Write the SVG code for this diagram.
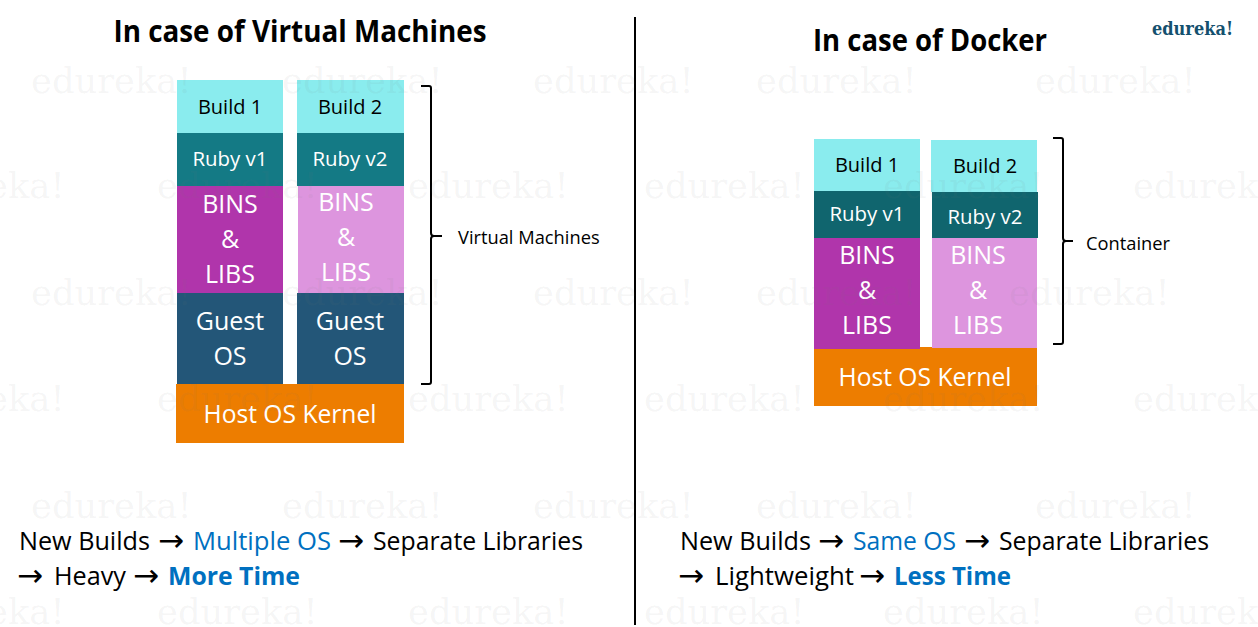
<svg xmlns="http://www.w3.org/2000/svg" width="1258" height="627" viewBox="0 0 1258 627">
<style>
text{font-family:"Open Sans","Noto Sans","Liberation Sans",sans-serif}
.wm{font-family:"DejaVu Serif",serif;font-size:35.3px;fill:#777;fill-opacity:.07}
.t{font-size:30px;font-weight:700;fill:#000}
.c{text-anchor:middle}
.s{font-size:20px;fill:#000}
.sw{font-size:20.4px;fill:#fff}
.b{font-size:25px;fill:#fff}
.l{font-size:18.3px;fill:#000}
.f{font-size:24.8px;fill:#000}
.bl{fill:#0070c0}
.bb{fill:#0070c0;font-weight:700}
.ar{font-family:"DejaVu Sans",sans-serif;font-size:31px;fill:#000}
.build{fill:#8aecee}.ruby{fill:#147a85}.rubyd{fill:#10656e}.p1{fill:#b035ab}.p2{fill:#dd95de}.g{fill:#235678}.h{fill:#ed7d00}
.brace{fill:none;stroke:#000;stroke-width:2}
</style>
<rect width="1258" height="627" fill="#fff"/>
<g id="titles">
<text class="t c" x="300" y="42" textLength="373" lengthAdjust="spacingAndGlyphs">In case of Virtual Machines</text>
<text class="t c" x="930" y="51" textLength="234" lengthAdjust="spacingAndGlyphs">In case of Docker</text>
<text x="1152" y="35" style="font-family:'DejaVu Serif',serif;font-size:19px;font-weight:700;fill:#14506e" textLength="81" lengthAdjust="spacingAndGlyphs">edureka!</text>
</g>
<g id="connectors">
<line x1="635" y1="17" x2="635" y2="625" stroke="#000" stroke-width="2"/>
<path class="brace" d="M421 86H429Q431 86 431 88V233Q431 236 434 236H442M434 236Q431 236 431 239V382Q431 384 429 384H421"/>
<path class="brace" d="M1053 138H1061Q1063 138 1063 140V238Q1063 241 1066 241H1073M1066 241Q1063 241 1063 244V342Q1063 344 1061 344H1053"/>
</g>
<g id="vm-build1"><rect class="build" x="177" y="80" width="106" height="53"/><text class="s c" x="230" y="114">Build 1</text></g>
<g id="vm-build2"><rect class="build" x="297" y="80" width="107" height="53"/><text class="s c" x="350" y="114">Build 2</text></g>
<g id="vm-ruby1"><rect class="ruby" x="177" y="133" width="106" height="53"/><text class="sw c" x="230" y="166">Ruby v1</text></g>
<g id="vm-ruby2"><rect class="ruby" x="297" y="133" width="107" height="53"/><text class="sw c" x="350" y="166">Ruby v2</text></g>
<g id="vm-bins1"><rect class="p1" x="177" y="186" width="106" height="107"/><text class="b c" x="230" y="213">BINS</text><text class="b c" x="230" y="248">&amp;</text><text class="b c" x="230" y="283">LIBS</text></g>
<g id="vm-bins2"><rect class="p2" x="298" y="186" width="106" height="107"/><text class="b c" x="346" y="211">BINS</text><text class="b c" x="346" y="246">&amp;</text><text class="b c" x="346" y="281">LIBS</text></g>
<g id="vm-guest1"><rect class="g" x="177" y="293" width="106" height="91"/><text class="b c" x="230" y="330">Guest</text><text class="b c" x="230" y="365">OS</text></g>
<g id="vm-guest2"><rect class="g" x="297" y="293" width="107" height="91"/><text class="b c" x="350" y="330">Guest</text><text class="b c" x="350" y="365">OS</text></g>
<g id="vm-host"><rect class="h" x="176" y="384" width="228" height="59"/><text class="b c" x="290" y="423" textLength="173" lengthAdjust="spacingAndGlyphs">Host OS Kernel</text></g>
<g id="vm-label"><text class="l" x="458" y="244">Virtual Machines</text></g>
<g id="d-host"><rect class="h" x="814" y="347" width="223" height="59"/><text class="b c" x="925" y="386" textLength="173" lengthAdjust="spacingAndGlyphs">Host OS Kernel</text></g>
<g id="d-build1"><rect class="build" x="814" y="139" width="106" height="52"/><text class="s c" x="867" y="172">Build 1</text></g>
<g id="d-build2"><rect class="build" x="931" y="140" width="106" height="52"/><text class="s c" x="985" y="173">Build 2</text></g>
<g id="d-ruby1"><rect class="rubyd" x="814" y="191" width="106" height="47"/><text class="sw c" x="867" y="221">Ruby v1</text></g>
<g id="d-ruby2"><rect class="rubyd" x="932" y="192" width="106" height="46"/><text class="sw c" x="985" y="224">Ruby v2</text></g>
<g id="d-bins1"><rect class="p1" x="814" y="238" width="106" height="111"/><text class="b c" x="867" y="264">BINS</text><text class="b c" x="867" y="299">&amp;</text><text class="b c" x="867" y="334">LIBS</text></g>
<g id="d-bins2"><rect class="p2" x="932" y="238" width="105" height="110"/><text class="b c" x="978" y="264">BINS</text><text class="b c" x="978" y="299">&amp;</text><text class="b c" x="978" y="334">LIBS</text></g>
<g id="d-label"><text class="l" x="1086" y="250">Container</text></g>
<g id="summary-vm">
<text class="f" x="19" y="550" textLength="131" lengthAdjust="spacingAndGlyphs">New Builds</text><text class="ar" x="158" y="551">→</text><text class="f bl" x="193" y="550" textLength="138" lengthAdjust="spacingAndGlyphs">Multiple OS</text><text class="ar" x="338" y="551">→</text><text class="f" x="373" y="550" textLength="210" lengthAdjust="spacingAndGlyphs">Separate Libraries</text>
<text class="ar" x="17" y="586">→</text><text class="f" x="54" y="585" textLength="72" lengthAdjust="spacingAndGlyphs">Heavy</text><text class="ar" x="133" y="586">→</text><text class="f bb" x="168" y="585" textLength="132" lengthAdjust="spacingAndGlyphs">More Time</text>
</g>
<g id="summary-docker">
<text class="f" x="680" y="550" textLength="131" lengthAdjust="spacingAndGlyphs">New Builds</text><text class="ar" x="818" y="551">→</text><text class="f bl" x="853" y="550" textLength="103" lengthAdjust="spacingAndGlyphs">Same OS</text><text class="ar" x="964" y="551">→</text><text class="f" x="999" y="550" textLength="210" lengthAdjust="spacingAndGlyphs">Separate Libraries</text>
<text class="ar" x="678" y="586">→</text><text class="f" x="715" y="585" textLength="139" lengthAdjust="spacingAndGlyphs">Lightweight</text><text class="ar" x="859" y="586">→</text><text class="f bb" x="894" y="585" textLength="117" lengthAdjust="spacingAndGlyphs">Less Time</text>
</g>
<g id="watermarks">
<text class="wm" x="31" y="93">edureka!</text><text class="wm" x="282" y="93">edureka!</text><text class="wm" x="533" y="93">edureka!</text><text class="wm" x="756" y="93">edureka!</text><text class="wm" x="1035" y="93">edureka!</text>
<text class="wm" x="-96" y="198">edureka!</text><text class="wm" x="157" y="198">edureka!</text><text class="wm" x="408" y="198">edureka!</text><text class="wm" x="644" y="198">edureka!</text><text class="wm" x="883" y="198">edureka!</text><text class="wm" x="1133" y="198">edureka!</text>
<text class="wm" x="31" y="305">edureka!</text><text class="wm" x="282" y="305">edureka!</text><text class="wm" x="533" y="305">edureka!</text><text class="wm" x="756" y="305">edureka!</text><text class="wm" x="1009" y="305">edureka!</text>
<text class="wm" x="-96" y="411">edureka!</text><text class="wm" x="157" y="411">edureka!</text><text class="wm" x="408" y="411">edureka!</text><text class="wm" x="644" y="411">edureka!</text><text class="wm" x="883" y="411">edureka!</text><text class="wm" x="1133" y="411">edureka!</text>
<text class="wm" x="31" y="518">edureka!</text><text class="wm" x="282" y="518">edureka!</text><text class="wm" x="533" y="518">edureka!</text><text class="wm" x="756" y="518">edureka!</text><text class="wm" x="1035" y="518">edureka!</text>
<text class="wm" x="-96" y="624">edureka!</text><text class="wm" x="157" y="624">edureka!</text><text class="wm" x="408" y="624">edureka!</text><text class="wm" x="644" y="624">edureka!</text><text class="wm" x="883" y="624">edureka!</text><text class="wm" x="1133" y="624">edureka!</text>
</g>
</svg>
